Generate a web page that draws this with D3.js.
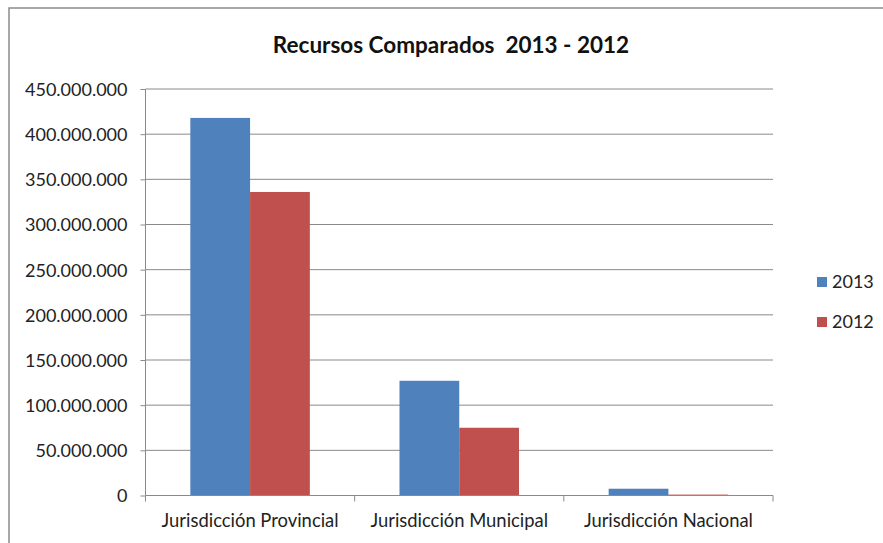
<!DOCTYPE html>
<html>
<head>
<meta charset="utf-8">
<script src="https://cdn.jsdelivr.net/npm/d3@7"></script>
<style>
  html, body { margin: 0; padding: 0; background: #fff; }
  svg { display: block; }
</style>
</head>
<body>
<div id="chart"></div>
<script>
/* ── Data ────────────────────────────────────────────────────────────── */
const CATEGORIES = ['Jurisdicción Provincial', 'Jurisdicción Municipal', 'Jurisdicción Nacional'];
const SERIES     = ['2013', '2012'];
const VALUES_2013 = [418000000, 127000000, 7500000];
const VALUES_2012 = [336000000, 75000000, 1000000];
const Y_TICKS    = [0, 50e6, 100e6, 150e6, 200e6, 250e6, 300e6, 350e6, 400e6, 450e6];
const COLORS     = ['#4F81BD', '#C0504D'];

/* ── Layout ──────────────────────────────────────────────────────────── */
const W = 883, H = 543;
const PX0 = 145.5, PX1 = 773, PY0 = 89, PY1 = 495.5;
const FONT = 'Lato, "Open Sans", sans-serif';

const svg = d3.select('#chart').append('svg')
  .attr('width', W).attr('height', H);

// outer chart frame (runs off the picture right and bottom)
svg.append('rect')
  .attr('x', 9).attr('y', 8)
  .attr('width', W + 20).attr('height', H + 20)
  .attr('fill', '#fff')
  .attr('stroke', '#8c8c8c').attr('stroke-width', 1.5);

const x0 = d3.scaleBand().domain(CATEGORIES).range([PX0, PX1]).padding(0);
const y = d3.scaleLinear().domain([0, 450e6]).range([PY1, PY0]);

const fmt = v => d3.format(',')(v).replace(/,/g, '.');

/* ── Gridlines ───────────────────────────────────────────────────────── */
svg.append('g')
  .selectAll('line')
  .data(Y_TICKS.filter(t => t > 0))
  .join('line')
  .attr('x1', PX0).attr('x2', PX1)
  .attr('y1', d => y(d)).attr('y2', d => y(d))
  .attr('stroke', '#8a8a8a').attr('stroke-width', 1);

/* ── Bars (gap width 150%) ───────────────────────────────────────────── */
const rows = CATEGORIES.map((c, i) => ({ cat: c, vals: [VALUES_2013[i], VALUES_2012[i]] }));

const bw = x0.bandwidth() / 3.5;
svg.append('g')
  .selectAll('g')
  .data(rows)
  .join('g')
  .attr('transform', d => `translate(${x0(d.cat)},0)`)
  .selectAll('rect')
  .data(d => d.vals.map((v, j) => ({ v, j })))
  .join('rect')
  .attr('x', d => bw * 0.75 + d.j * bw)
  .attr('width', bw)
  .attr('y', d => y(d.v))
  .attr('height', d => y(0) - y(d.v))
  .attr('fill', d => COLORS[d.j]);

/* ── Axes ────────────────────────────────────────────────────────────── */
const yAxis = svg.append('g')
  .attr('transform', `translate(${PX0},0)`)
  .call(d3.axisLeft(y).tickValues(Y_TICKS).tickFormat(fmt).tickSize(5).tickPadding(13));
yAxis.select('.domain').attr('stroke', '#8a8a8a').attr('d', `M0,${PY0}V${PY1}`);
yAxis.selectAll('.tick line').attr('stroke', '#8a8a8a');
yAxis.selectAll('text')
  .attr('fill', '#222').attr('font-size', '18px').attr('font-family', FONT)
  .attr('dy', '0.36em');

const xAxis = svg.append('g')
  .attr('transform', `translate(0,${PY1})`)
  .call(d3.axisBottom(x0).tickSize(0).tickPadding(18));
xAxis.select('.domain').attr('stroke', '#8a8a8a').attr('d', `M${PX0},0H${PX1}`);
xAxis.selectAll('text')
  .attr('fill', '#222').attr('font-size', '18.4px').attr('font-family', FONT);

// category boundary ticks
svg.append('g')
  .selectAll('line')
  .data([...CATEGORIES.map(c => x0(c)), PX1])
  .join('line')
  .attr('x1', d => d).attr('x2', d => d)
  .attr('y1', PY1).attr('y2', PY1 + 6)
  .attr('stroke', '#8a8a8a');

/* ── Title ───────────────────────────────────────────────────────────── */
svg.append('text')
  .attr('x', 451).attr('y', 53)
  .attr('text-anchor', 'middle')
  .attr('fill', '#111')
  .attr('font-size', '22.5px').attr('font-weight', 'bold')
  .attr('font-family', FONT)
  .attr('xml:space', 'preserve')
  .text('Recursos Comparados  2013 - 2012');

/* ── Legend ──────────────────────────────────────────────────────────── */
const leg = svg.append('g')
  .selectAll('g')
  .data(SERIES)
  .join('g')
  .attr('transform', (d, i) => `translate(817,${282 + i * 40})`);
leg.append('rect')
  .attr('x', 0).attr('y', -5).attr('width', 10).attr('height', 10)
  .attr('fill', (d, i) => COLORS[i]);
leg.append('text')
  .attr('x', 15).attr('y', 0).attr('dy', '0.36em')
  .attr('fill', '#222').attr('font-size', '18px').attr('font-family', FONT)
  .text(d => d);
</script>
</body>
</html>
